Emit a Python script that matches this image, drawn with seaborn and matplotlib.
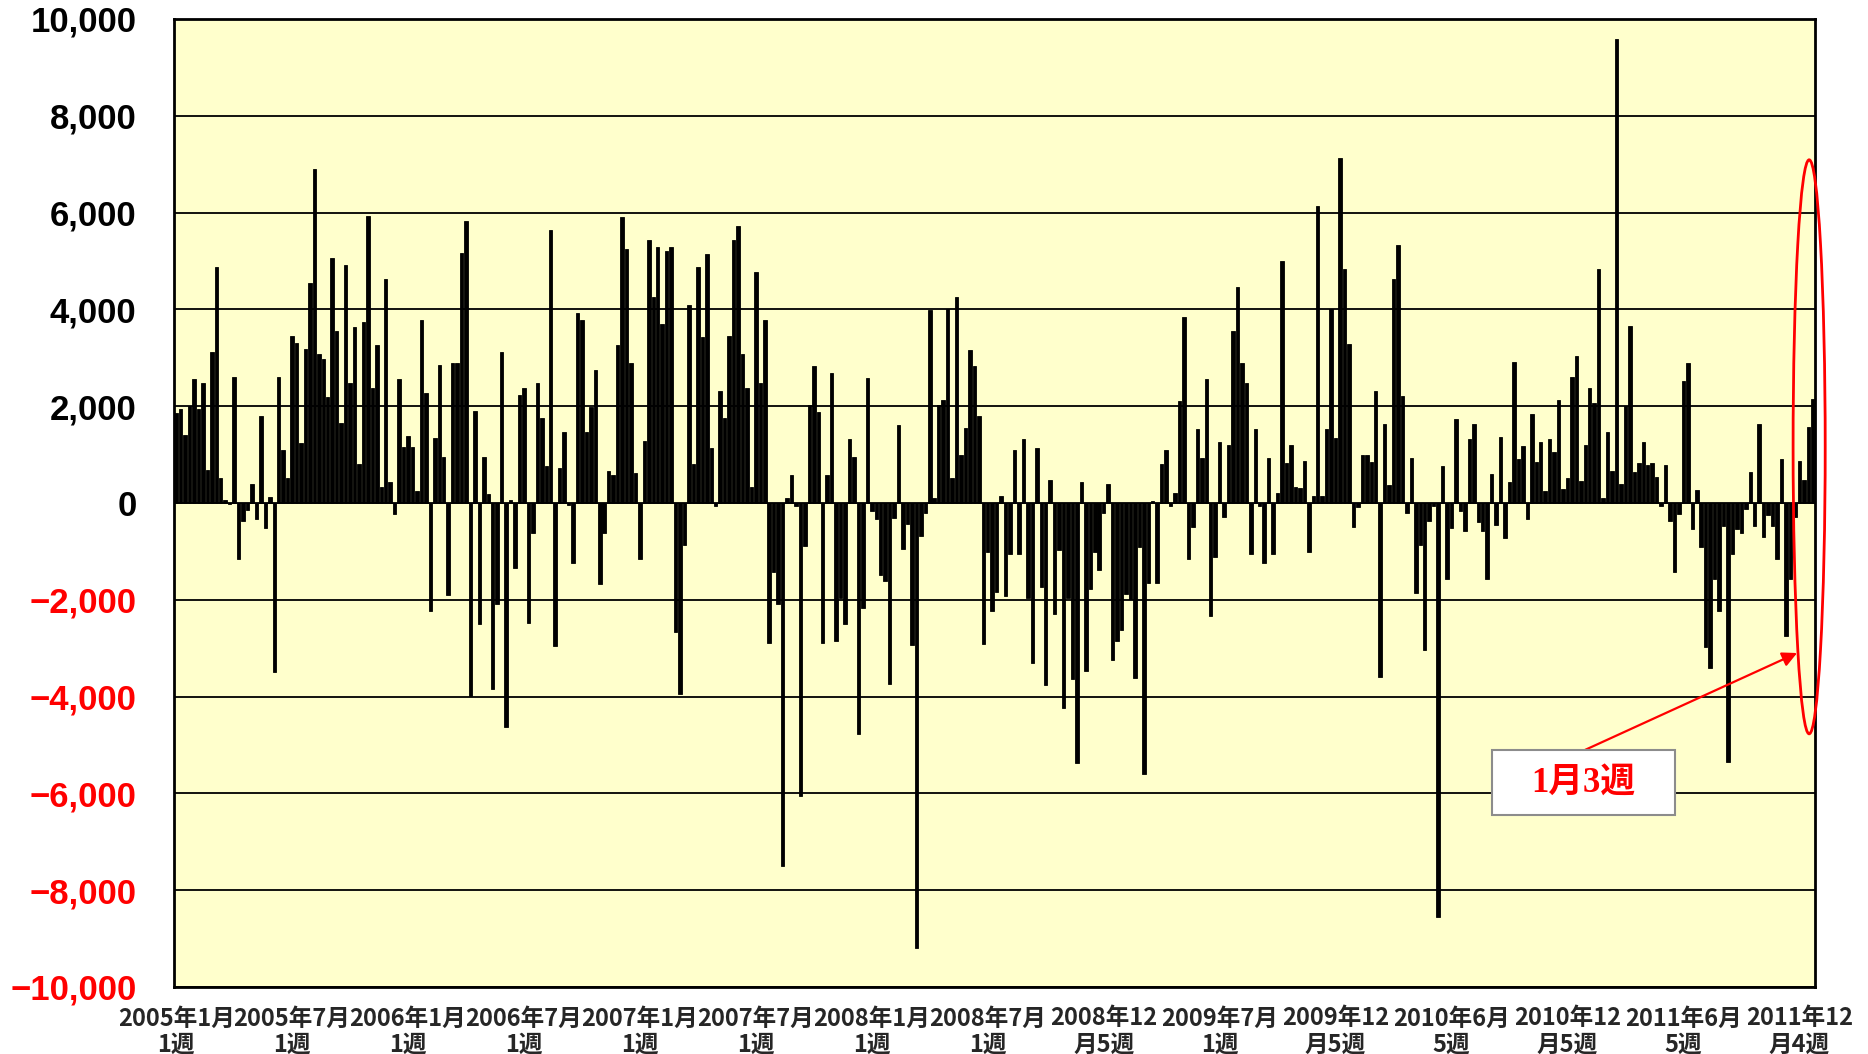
import matplotlib
matplotlib.use("Agg")
import matplotlib.pyplot as plt
import pandas as pd
import seaborn as sns
from matplotlib.patches import Ellipse, Rectangle

# weekly values (2005 wk1 .. 2011 Dec wk4 + following weeks)
vals_2005 = [1850, 1950, 1400, 2000, 2560, 1950, 2470, 680, 3120, 4880,
             520, 55, -30, 2600, -1150, -380, -140, 390, -340, 1800,
             -520, 130, -3500, 2600, 1100, 520, 3450, 3310, 1240, 3180,
             4550, 6900, 3080, 2980, 2190, 5060, 3560, 1660, 4920, 2470,
             3640, 810, 3740, 5920, 2370, 3270, 330, 4630, 435, -220,
             2560, 1150]
vals_2006 = [1380, 1150, 250, 3790, 2280, -2240, 1340, 2850, 960, -1900,
             2890, 2890, 5160, 5830, -3990, 1900, -2510, 950, 190, -3840,
             -2090, 3120, -4630, 55, -1340, 2230, 2370, -2470, -630, 2470,
             1750, 760, 5630, -2950, 730, 1470, -50, -1250, 3930, 3790,
             1470, 1980, 2740, -1670, -630, 660, 570, 3260, 5900, 5250,
             2890, 625]
vals_2007 = [-1150, 1280, 5430, 4260, 5290, 3690, 5210, 5290, -2660, -3940,
             -870, 4100, 800, 4880, 3420, 5150, 1140, -60, 2320, 1750,
             3450, 5430, 5720, 3080, 2370, 330, 4770, 2470, 3790, -2890,
             -1430, -2080, -7500, 100, 570, -70, -6050, -880, 2020, 2820,
             1880, -2890, 570, 2690, -2850, -1960, -2510, 1330, 950, -4770,
             -2180, 2590]
vals_2008 = [-170, -340, -1490, -1610, -3740, -310, 1610, -960, -430, -2930,
             -9200, -690, -210, 3980, 95, 2020, 2120, 4010, 520, 4250,
             990, 1550, 3170, 2840, 1800, -2920, -1020, -2240, -1830, 140,
             -1920, -1060, 1090, -1060, 1320, -1970, -3300, 1140, -1730, -3760,
             470, -2300, -970, -4240, -1970, -3630, -5370, 430, -3470, -1780,
             -1020, -1390]
vals_2009 = [-200, 390, -3240, -2850, -2620, -1880, -1990, -3610, -910, -5600,
             -1650, 50, -1650, 800, 1090, -60, 200, 2100, 3840, -1160,
             -490, 1530, 930, 2560, -2340, -1110, 1250, -300, 1200, 3560,
             4460, 2900, 2470, -1060, 1530, -60, -1250, 930, -1060, 200,
             5000, 830, 1190, 320, 300, 860, -1020, 140, 6130, 140,
             1530, 4010]
vals_2010 = [1340, 7130, 4840, 3280, -490, -90, 1000, 1000, 850, 2320,
             -3600, 1640, 380, 4620, 5340, 2210, -210, 935, -1870, -875,
             -3030, -370, -70, -8560, 760, -1570, -510, 1740, -170, -580,
             1330, 1640, -400, -580, -1570, 600, -450, 1370, -720, 430,
             2920, 900, 1170, -340, 1840, 850, 1270, 250, 1330, 1050,
             2120, 280]
vals_2011 = [520, 2600, 3040, 450, 1190, 2370, 2060, 4840, 110, 1470,
             670, 9580, 390, 2000, 3660, 650, 820, 1250, 790, 820,
             540, -60, 790, -380, -1430, -220, 2530, 2900, -530, 260,
             -900, -2980, -3420, -1570, -2240, -470, -5360, -1060, -530, -620,
             -130, 630, -470, 1630, -700, -250, -470, -1150, 900, -2740,
             -1570, -300, 870, 480, 1570, 2150]

tick_labels = ["2005年1月\n1週", "2005年7月\n1週", "2006年1月\n1週", "2006年7月\n1週",
               "2007年1月\n1週", "2007年7月\n1週", "2008年1月\n1週", "2008年7月\n1週",
               "2008年12\n月5週", "2009年7月\n1週", "2009年12\n月5週", "2010年6月\n5週",
               "2010年12\n月5週", "2011年6月\n5週", "2011年12\n月4週"]
tick_step = 26
y_ticks = list(range(-10000, 10001, 2000))
note_text = "1月3週"

values = vals_2005 + vals_2006 + vals_2007 + vals_2008 + vals_2009 + vals_2010 + vals_2011
df = pd.DataFrame({"week": range(len(values)), "value": values})

sns.set_style("white")
plt.rcParams["font.family"] = ["Liberation Sans", "Noto Sans CJK JP", "DejaVu Sans"]

fig = plt.figure(figsize=(18.68, 10.54), dpi=100)
ax = fig.add_axes([0.0931, 0.0636, 0.8785, 0.9184])
ax.set_facecolor("#FFFFCC")

sns.barplot(data=df, x="week", y="value", color="black", width=0.78,
            saturation=1, errorbar=None, linewidth=0.6, edgecolor="black",
            ax=ax, zorder=3)

ax.set_xlim(-0.5, len(values) - 0.5)
ax.set_ylim(-10000, 10000)
ax.set_axisbelow(True)
ax.yaxis.grid(True, color="black", linewidth=1.3)
ax.xaxis.grid(False)

for s in ax.spines.values():
    s.set_color("black")
    s.set_linewidth(2)

ax.set_yticks(y_ticks)
ax.set_yticklabels([f"{v:,}".replace("-", "\u2212") for v in y_ticks],
                   fontsize=25, fontweight="bold")
for lab, v in zip(ax.get_yticklabels(), y_ticks):
    lab.set_color("red" if v < 0 else "black")
ax.tick_params(axis="y", length=0, pad=27)

ax.set_xticks(list(range(0, tick_step * len(tick_labels), tick_step)))
ax.set_xticklabels(tick_labels, fontsize=17, fontweight="bold",
                   family=["Noto Sans CJK JP"], linespacing=1.12)
ax.tick_params(axis="x", length=0, pad=14)
ax.set_xlabel("")
ax.set_ylabel("")

# annotation: ellipse round last weeks, arrow and label box
ax.add_patch(Ellipse((366.2, 1160), width=7.2, height=11860, fill=False,
                     edgecolor="red", linewidth=2, clip_on=False, zorder=6))
ax.annotate("", xy=(363.5, -3100), xytext=(316, -5100),
            arrowprops=dict(arrowstyle="-|>", color="red", lw=1.6,
                            mutation_scale=22, shrinkA=0, shrinkB=0),
            zorder=7)
ax.add_patch(Rectangle((295.1, -6450), 41, 1350, facecolor="white",
                       edgecolor="#8c8c8c", linewidth=1.5, zorder=8))
ax.text(315.6, -5780, note_text, ha="center", va="center", color="red",
        fontsize=25, fontweight="bold",
        family=["Liberation Serif", "Noto Sans CJK JP"], zorder=9)

fig.savefig("out.png", dpi=100, facecolor="white")
